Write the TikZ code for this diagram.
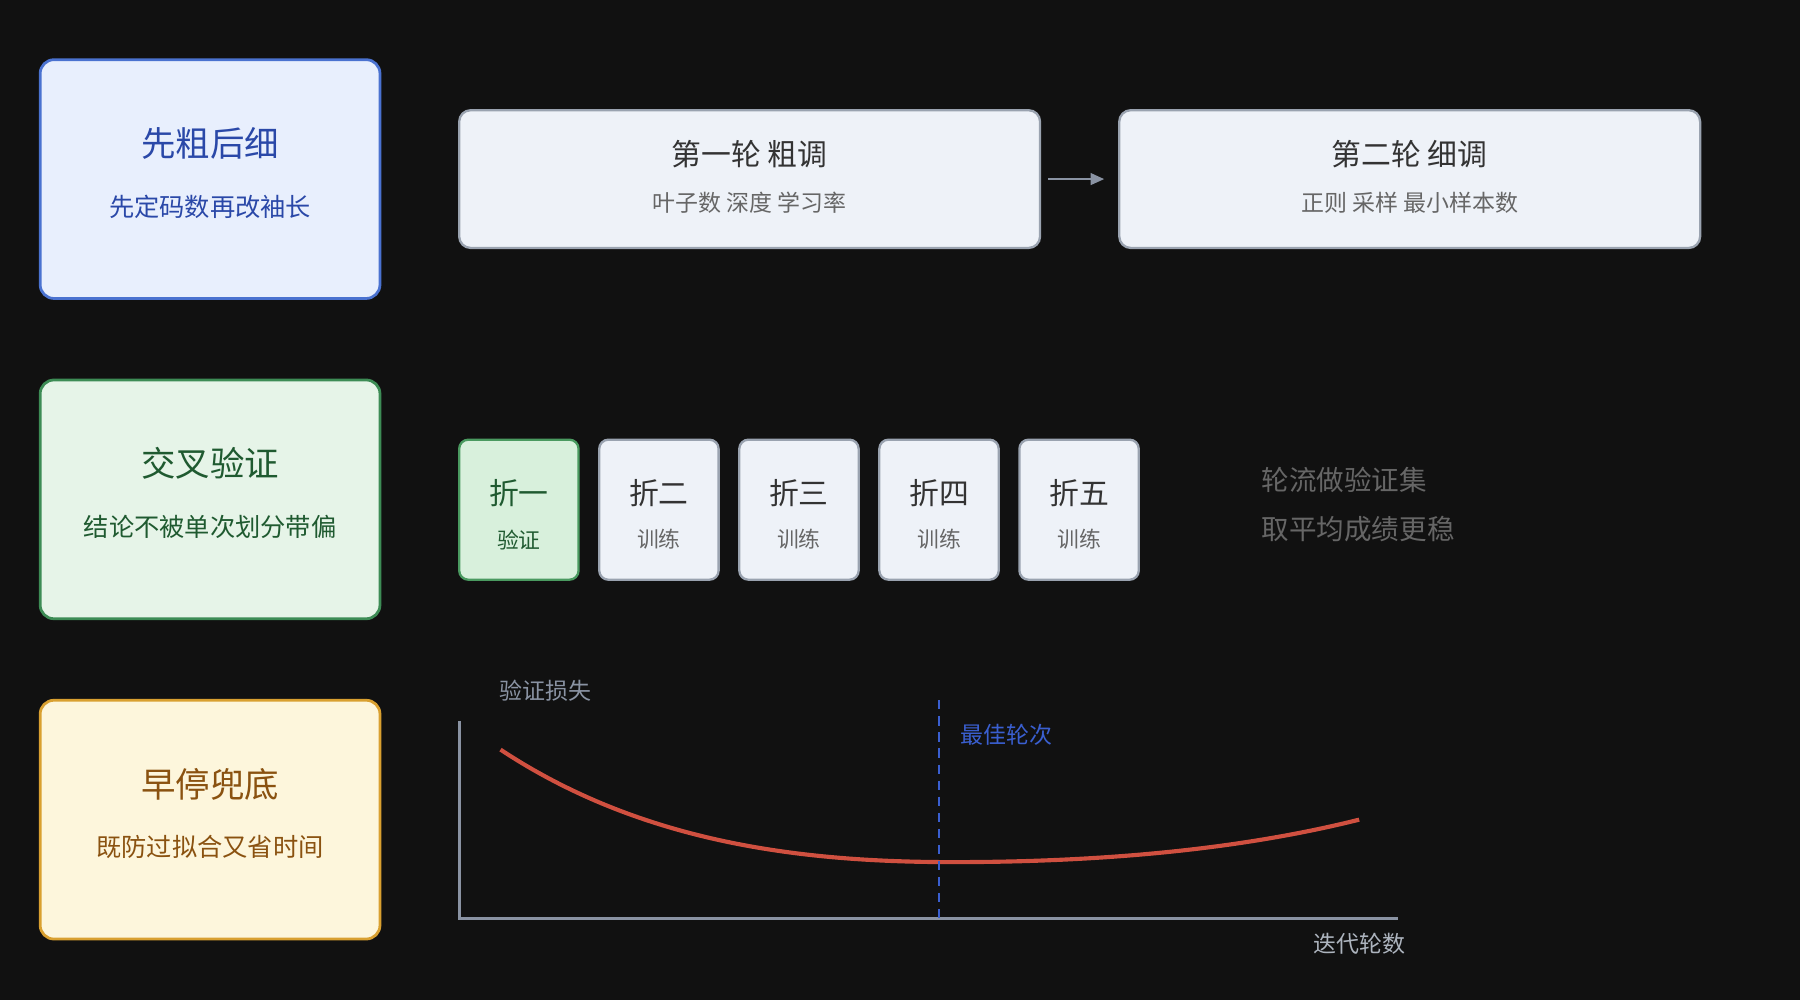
\documentclass[tikz,border=0pt]{standalone}
\usepackage{fontspec}
\setmainfont{Noto Sans CJK SC}
\usetikzlibrary{positioning,arrows.meta}
\definecolor{bgdark}{HTML}{111111}
\definecolor{blueF}{HTML}{E8EFFD}\definecolor{blueD}{HTML}{4A72D0}\definecolor{blueT}{HTML}{2A48A8}
\definecolor{greenF}{HTML}{E6F4E8}\definecolor{greenD}{HTML}{3D8C55}\definecolor{greenT}{HTML}{1F5A30}
\definecolor{yelF}{HTML}{FDF6DC}\definecolor{yelD}{HTML}{D9A030}\definecolor{yelT}{HTML}{8A5210}
\definecolor{stepF}{HTML}{EEF2F8}\definecolor{stepD}{HTML}{9AA3B0}
\definecolor{foldF}{HTML}{D8F0DC}\definecolor{foldD}{HTML}{4A9A60}
\definecolor{axisC}{HTML}{8A93A3}\definecolor{curveC}{HTML}{D05040}\definecolor{bestC}{HTML}{3A5FD0}

\begin{document}
\begin{tikzpicture}[x=0.5pt,y=-0.5pt,
    idea/.style={rectangle, rounded corners=6pt, line width=1.2pt, minimum width=148pt, minimum height=104pt, align=center},
    roundbox/.style={rectangle, rounded corners=5pt, draw=stepD, line width=1pt, fill=stepF, minimum width=253pt, minimum height=60pt},
    fold/.style={rectangle, rounded corners=4pt, draw=stepD, line width=1pt, fill=stepF, minimum width=52pt, minimum height=61pt},
    note/.style={text=gray!80!black, font=\fontsize{12}{18}\selectfont, align=left, anchor=west}
]
\fill[bgdark] (0,0) rectangle (1568,871);

% Left column
\node[idea, draw=blueD, fill=blueF] (coarse) at (183,156) {};
\node[text=blueT, font=\fontsize{15}{18}\selectfont] at (183,125) {先粗后细};
\node[text=blueT, font=\fontsize{11}{13}\selectfont] at (183,180) {先定码数再改袖长};
\node[idea, draw=greenD, fill=greenF] (cv) at (183,435) {};
\node[text=greenT, font=\fontsize{15}{18}\selectfont] at (183,404) {交叉验证};
\node[text=greenT, font=\fontsize{11}{13}\selectfont] at (183,459) {结论不被单次划分带偏};
\node[idea, draw=yelD, fill=yelF] (stop) at (183,714) {};
\node[text=yelT, font=\fontsize{15}{18}\selectfont] at (183,683) {早停兜底};
\node[text=yelT, font=\fontsize{11}{13}\selectfont] at (183,738) {既防过拟合又省时间};

% Rounds
\node[roundbox] (round1) at (653,156) {};
\node[text=black!80, font=\fontsize{13}{16}\selectfont] at (653,134) {第一轮 粗调};
\node[text=gray!80!black, font=\fontsize{10}{12}\selectfont] at (653,177) {叶子数 深度 学习率};
\node[roundbox] (round2) at (1228,156) {};
\node[text=black!80, font=\fontsize{13}{16}\selectfont] at (1228,134) {第二轮 细调};
\node[text=gray!80!black, font=\fontsize{10}{12}\selectfont] at (1228,177) {正则 采样 最小样本数};
\draw[-{Triangle[length=6pt,width=5pt]}, axisC, line width=1.2pt] ([xshift=3]round1.east) -- ([xshift=-6]round2.west);

% Folds
\node[fold, draw=foldD, fill=foldF] (f1) at (452,444) {};
\node[text=greenT, font=\fontsize{13}{16}\selectfont] at (452,430) {折一};
\node[text=greenT, font=\fontsize{9.5}{12}\selectfont] at (452,470) {验证};
\foreach \x/\t [count=\i from 2] in {574/折二,696/折三,818/折四,940/折五}{
  \node[fold] (f\i) at (\x,444) {};
  \node[text=black!80, font=\fontsize{13}{16}\selectfont] at (\x,430) {\t};
  \node[text=gray!80!black, font=\fontsize{9.5}{12}\selectfont] at (\x,470) {训练};
}
\node[note] (turn) at (1092,418) {轮流做验证集};
\node[note] (avg) at (1092,461) {取平均成绩更稳};

% Early stopping plot
\coordinate (origin) at (400,800);
\coordinate (ytop) at (400,628);
\coordinate (xend) at (1218,800);
\draw[axisC, line width=1.2pt] (ytop) -- (origin) -- (xend);
\node[text=axisC, anchor=west, font=\fontsize{10}{12}\selectfont] (ylab) at (428,602) {验证损失};
\node[text=axisC!70!white, font=\fontsize{10}{12}\selectfont] (xlab) at (1184,822) {迭代轮数};
\draw[curveC, line width=1.8pt] (436,653) .. controls (560,735) and (700,751) .. (830,751)
   .. controls (960,751) and (1080,740) .. (1184,714);
\coordinate (bestTop) at (818,610);
\coordinate (bestBot) at (818,800);
\draw[bestC, line width=1.2pt, dash pattern=on 4pt off 3pt] (bestTop) -- (bestBot);
\node[text=bestC, anchor=west, font=\fontsize{10}{12}\selectfont] (best) at (830,640) {最佳轮次};
\end{tikzpicture}
\end{document}
